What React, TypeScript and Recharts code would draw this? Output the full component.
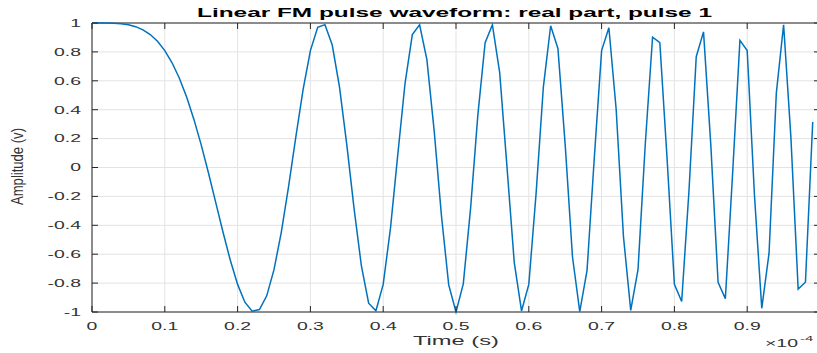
import { LineChart, Line, XAxis, YAxis, CartesianGrid, ReferenceArea } from 'recharts';

// sample times (x 1e-4 s)
const time = [
  0, 0.01, 0.02, 0.03, 0.04, 0.05, 0.06, 0.07, 0.08, 0.09,
  0.1, 0.11, 0.12, 0.13, 0.14, 0.15, 0.16, 0.17, 0.18, 0.19,
  0.2, 0.21, 0.22, 0.23, 0.24, 0.25, 0.26, 0.27, 0.28, 0.29,
  0.3, 0.31, 0.32, 0.33, 0.34, 0.35, 0.36, 0.37, 0.38, 0.39,
  0.4, 0.41, 0.42, 0.43, 0.44, 0.45, 0.46, 0.47, 0.48, 0.49,
  0.5, 0.51, 0.52, 0.53, 0.54, 0.55, 0.56, 0.57, 0.58, 0.59,
  0.6, 0.61, 0.62, 0.63, 0.64, 0.65, 0.66, 0.67, 0.68, 0.69,
  0.7, 0.71, 0.72, 0.73, 0.74, 0.75, 0.76, 0.77, 0.78, 0.79,
  0.8, 0.81, 0.82, 0.83, 0.84, 0.85, 0.86, 0.87, 0.88, 0.89,
  0.9, 0.91, 0.92, 0.93, 0.94, 0.95, 0.96, 0.97, 0.98, 0.99,
];

const amplitude = [
  1.0, 1.0, 0.9997, 0.9984, 0.995, 0.9877, 0.9745, 0.953, 0.9203, 0.8733,
  0.809, 0.7248, 0.618, 0.4873, 0.3328, 0.1564, -0.0377, -0.2426, -0.4484, -0.6421,
  -0.809, -0.9321, -0.995, -0.9834, -0.8882, -0.7071, -0.4483, -0.1316, 0.212, 0.541,
  0.809, 0.9701, 0.9887, 0.8477, 0.5568, 0.1564, -0.2851, -0.6799, -0.9388, -0.9913,
  -0.809, -0.42, 0.0878, 0.5828, 0.9203, 0.9877, 0.7461, 0.2548, -0.3328, -0.8127,
  -1.0, -0.8053, -0.285, 0.3623, 0.8639, 0.9877, 0.6566, 0.0063, -0.6561, -0.9929,
  -0.809, -0.1812, 0.5568, 0.9811, 0.8236, 0.1564, -0.6178, -0.9976, -0.7115, 0.0691,
  0.809, 0.967, 0.4029, -0.4763, -0.9887, -0.7071, 0.1626, 0.9022, 0.8639, 0.0565,
  -0.809, -0.9275, -0.1626, 0.7667, 0.9388, 0.1564, -0.7939, -0.9075, -0.0377, 0.8794,
  0.809, -0.1936, -0.9745, -0.593, 0.5145, 0.9877, 0.212, -0.841, -0.7939, 0.315,
];

const xTicks = [0, 0.1, 0.2, 0.3, 0.4, 0.5, 0.6, 0.7, 0.8, 0.9, 1];
const xTickLabels = ['0', '0.1', '0.2', '0.3', '0.4', '0.5', '0.6', '0.7', '0.8', '0.9', ''];
const yTicks = [-1, -0.8, -0.6, -0.4, -0.2, 0, 0.2, 0.4, 0.6, 0.8, 1];
const yTickLabels = ['-1', '-0.8', '-0.6', '-0.4', '-0.2', '0', '0.2', '0.4', '0.6', '0.8', '1'];

const W = 830;
const H = 353;
const LEFT = 92;
const TOP = 23;
const BOTTOM = 312;
const RIGHT = 820;
const FONT = "'Liberation Sans', Arial, Helvetica, sans-serif";
const AXIS = '#262626';

const data = time.map((t, i) => ({ t, v: amplitude[i] }));

function XTick(props: any) {
  const { x, payload } = props;
  const label = xTickLabels[xTicks.indexOf(payload.value)];
  return (
    <g>
      <line x1={x} x2={x} y1={BOTTOM} y2={BOTTOM - 6} stroke={AXIS} />
      <line x1={x} x2={x} y1={TOP} y2={TOP + 6} stroke={AXIS} />
      <text
        transform={`translate(${x},330) scale(1.85,1)`}
        textAnchor='middle'
        fontFamily={FONT}
        fontSize={10.5}
        fill='#333'
      >
        {label}
      </text>
    </g>
  );
}

function YTick(props: any) {
  const { y, payload } = props;
  const label = yTickLabels[yTicks.indexOf(payload.value)];
  return (
    <g>
      <line x1={LEFT} x2={LEFT + 6} y1={y} y2={y} stroke={AXIS} />
      <line x1={RIGHT} x2={RIGHT - 6} y1={y} y2={y} stroke={AXIS} />
      <text
        transform={`translate(81,${y + 3.8}) scale(1.85,1)`}
        textAnchor='end'
        fontFamily={FONT}
        fontSize={10.5}
        fill='#333'
      >
        {label}
      </text>
    </g>
  );
}

export default function App() {
  return (
    <div style={{ position: 'absolute', left: 0, top: 0, width: 817, height: H, overflow: 'hidden', background: '#fff' }}>
      <LineChart
        width={W}
        height={H}
        data={data}
        margin={{ top: TOP, right: W - RIGHT, bottom: 0, left: 0 }}
      >
        <CartesianGrid stroke='#e3e3e3' />
        <XAxis
          dataKey='t'
          type='number'
          domain={[0, 1]}
          ticks={xTicks}
          interval={0}
          height={H - BOTTOM}
          tickLine={false}
          axisLine={false}
          tick={<XTick />}
        />
        <YAxis
          type='number'
          domain={[-1, 1]}
          ticks={yTicks}
          interval={0}
          width={LEFT}
          tickLine={false}
          axisLine={false}
          tick={<YTick />}
        />
        <ReferenceArea
          x1={0}
          x2={1}
          y1={-1}
          y2={1}
          fill='none'
          fillOpacity={0}
          stroke={AXIS}
          strokeOpacity={1}
          ifOverflow='visible'
        />
        <Line
          dataKey='v'
          type='linear'
          stroke='#0072BD'
          strokeWidth={1.5}
          dot={false}
          isAnimationActive={false}
        />
      </LineChart>
      <svg width={817} height={H} style={{ position: 'absolute', left: 0, top: 0, pointerEvents: 'none' }}>
        <text
          x={454.5}
          y={16.7}
          textAnchor='middle'
          fontFamily={FONT}
          fontWeight='bold'
          fontSize={13}
          textLength={515}
          lengthAdjust='spacingAndGlyphs'
          fill='#000'
        >
          Linear FM pulse waveform: real part, pulse 1
        </text>
        <text
          transform='translate(23,166.5) scale(1.3,1) rotate(-90)'
          textAnchor='middle'
          fontFamily={FONT}
          fontSize={12}
          textLength={77}
          lengthAdjust='spacingAndGlyphs'
          fill='#333'
        >
          Amplitude (v)
        </text>
        <text
          x={456}
          y={344.5}
          textAnchor='middle'
          fontFamily={FONT}
          fontSize={12}
          textLength={86}
          lengthAdjust='spacingAndGlyphs'
          fill='#333'
        >
          Time (s)
        </text>
        <text transform='translate(765,346.5) scale(1.85,1)' fontFamily={FONT} fontSize={10.5} fill='#333'>
          ×10
        </text>
        <text transform='translate(800,341) scale(1.85,1)' fontFamily={FONT} fontSize={8} fill='#333'>
          -4
        </text>
      </svg>
    </div>
  );
}
